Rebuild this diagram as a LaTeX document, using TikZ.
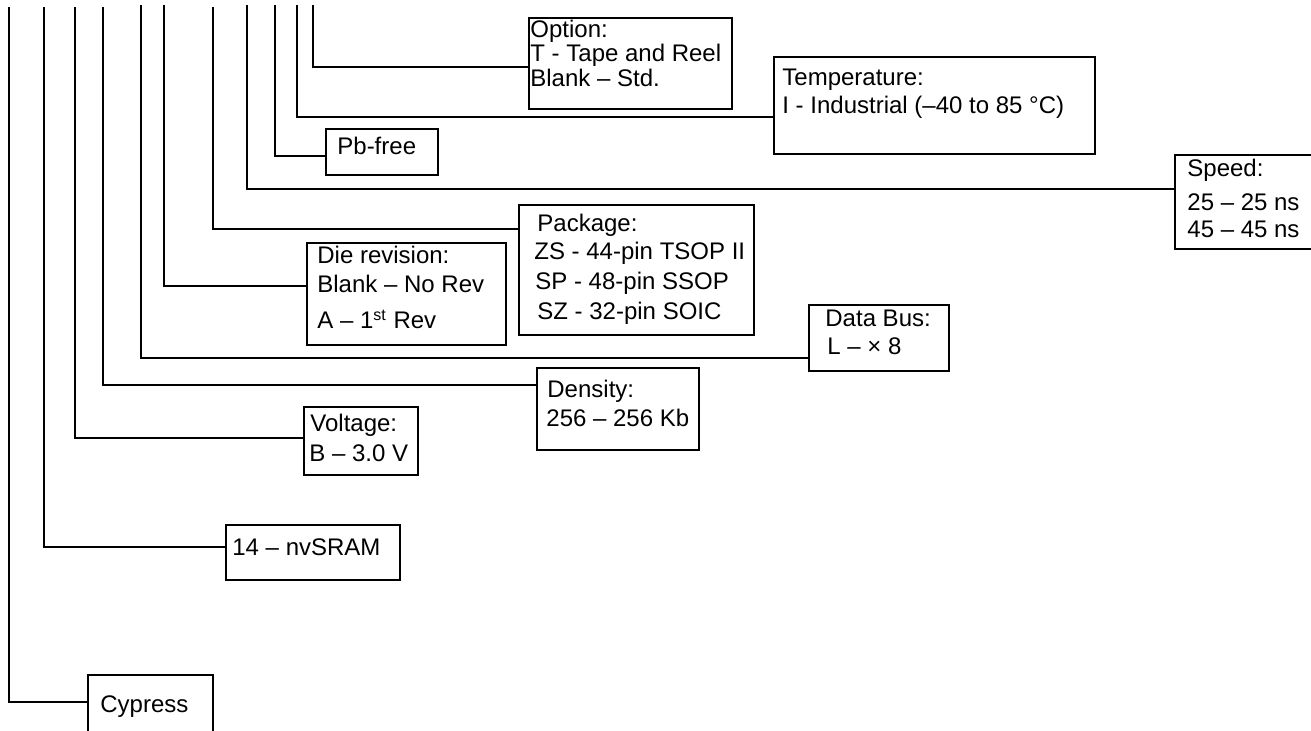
\documentclass[tikz,border=0pt]{standalone}
\usepackage{fontspec}
\setmainfont{Liberation Sans}
\begin{document}
\begin{tikzpicture}[x=0.5pt,y=-0.5pt,
  box/.style={draw, line width=1pt, inner sep=0pt, anchor=north west},
  txt/.style={inner sep=0pt, anchor=base west, font=\fontsize{12}{14}\selectfont},
  wire/.style={draw, line width=1pt}]
\useasboundingbox (0,0) rectangle (1311,731);
\begin{scope}
\clip (0,0) rectangle (1311,731);
% boxes
\node[box, minimum width=101.5pt, minimum height=45.5pt] (opt) at (528,17) {};
\node[box, minimum width=160.5pt, minimum height=48.5pt] (temp) at (773,56) {};
\node[box, minimum width=56pt, minimum height=23pt] (pb) at (325,128) {};
\node[box, minimum width=85pt, minimum height=47pt] (speed) at (1174,154) {};
\node[box, minimum width=117.5pt, minimum height=65pt] (pkg) at (518,204) {};
\node[box, minimum width=99.5pt, minimum height=51pt] (die) at (306,242) {};
\node[box, minimum width=70pt, minimum height=33pt] (bus) at (808,304) {};
\node[box, minimum width=81pt, minimum height=41pt] (dens) at (536,367) {};
\node[box, minimum width=57pt, minimum height=34pt] (volt) at (303,406) {};
\node[box, minimum width=87pt, minimum height=27.5pt] (nv) at (225,524) {};
\node[box, minimum width=62.5pt, minimum height=43pt] (cyp) at (87,674) {};
% texts
\node[txt] (opt1) at (530,38) {Option:};
\node[txt] (opt2) at (530,62) {T - Tape and Reel};
\node[txt] (opt3) at (530,87) {Blank – Std.};
\node[txt] (temp1) at (782,86) {Temperature:};
\node[txt] (temp2) at (782,114) {I - Industrial (–40 to 85 °C)};
\node[txt] (pb1) at (337,155) {Pb-free};
\node[txt] (sp1) at (1187,177) {Speed:};
\node[txt] (sp2) at (1187,211) {25 – 25 ns};
\node[txt] (sp3) at (1187,238) {45 – 45 ns};
\node[txt] (pk1) at (537,232) {Package:};
\node[txt] (pk2) at (534,260) {ZS - 44-pin TSOP II};
\node[txt] (pk3) at (535,290) {SP - 48-pin SSOP};
\node[txt] (pk4) at (537,320) {SZ - 32-pin SOIC};
\node[txt] (dr1) at (317,264) {Die revision:};
\node[txt] (dr2) at (317,293) {Blank – No Rev};
\node[txt] (dr3) at (317,329) {A – 1\textsuperscript{st} Rev};
\node[txt] (db1) at (825,327) {Data Bus:};
\node[txt] (db2) at (827,355) {L – × 8};
\node[txt] (de1) at (547,398) {Density:};
\node[txt] (de2) at (546,427) {256 – 256 Kb};
\node[txt] (vo1) at (310,432) {Voltage:};
\node[txt] (vo2) at (309,462) {B – 3.0 V};
\node[txt] (nv1) at (232,555) {14 – nvSRAM};
\node[txt] (cy1) at (100,712) {Cypress};
% connector tops
\coordinate (v1) at (9,7);
\coordinate (v2) at (44,7);
\coordinate (v3) at (75,7);
\coordinate (v4) at (103,7);
\coordinate (v5) at (141,5);
\coordinate (v6) at (164,5);
\coordinate (v7) at (213,7);
\coordinate (v8) at (247,5);
\coordinate (v9) at (275,5);
\coordinate (v10) at (297,5);
\coordinate (v11) at (313,5);
% connectors
\draw[wire] (v1) |- ([yshift=8pt]cyp.west);
\draw[wire] (v2) |- ([yshift=2.75pt]nv.west);
\draw[wire] (v3) |- ([yshift=1.5pt]volt.west);
\draw[wire] (v4) |- ([yshift=12pt]dens.west);
\draw[wire] (v5) |- ([yshift=-10pt]bus.west);
\draw[wire] (v6) |- ([yshift=4pt]die.west);
\draw[wire] (v7) |- ([yshift=20.5pt]pkg.west);
\draw[wire] (v8) |- ([yshift=6.5pt]speed.west);
\draw[wire] (v9) |- ([yshift=-2pt]pb.west);
\draw[wire] (v10) |- ([yshift=-5.75pt]temp.west);
\draw[wire] (v11) |- ([yshift=-1.75pt]opt.west);
\end{scope}
\end{tikzpicture}
\end{document}
